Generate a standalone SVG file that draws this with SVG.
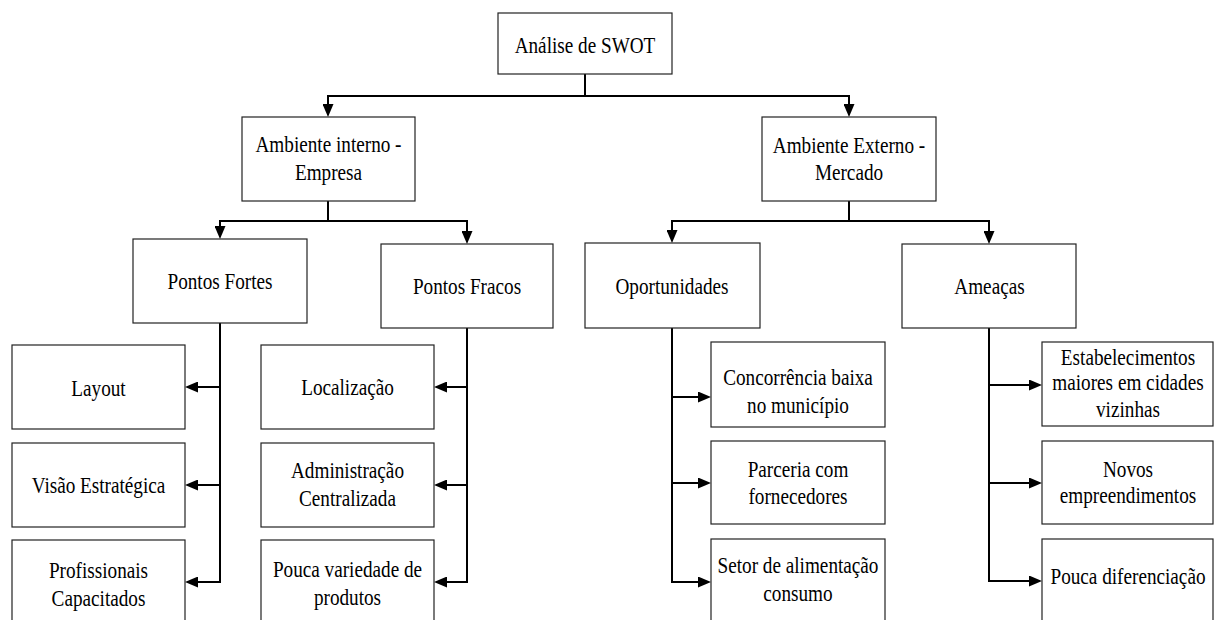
<svg xmlns="http://www.w3.org/2000/svg" width="1214" height="620" viewBox="0 0 1214 620">
  <style>
    .box { fill: #ffffff; stroke: #222222; stroke-width: 1.2; }
    .wire { fill: none; stroke: #000000; stroke-width: 2; }
    .tip { marker-end: url(#arrow); }
  </style>
  <defs>
    <marker id="arrow" markerUnits="userSpaceOnUse" markerWidth="13" markerHeight="11" viewBox="0 0 13 11" refX="5" refY="5.5" orient="auto">
      <path d="M0,0 L13,5.5 L0,11 z" fill="#000000"/>
    </marker>
  </defs>
  <rect width="1214" height="620" fill="#ffffff"/>

  <!-- connectors: trunks without heads, branches ending in arrowheads -->
  <g id="connectors" class="wire">
    <path d="M585,74 V96"/>
    <path class="tip" d="M585,96 H328 V109"/>
    <path class="tip" d="M585,96 H849 V109"/>
    <path d="M328,201 V221"/>
    <path class="tip" d="M328,221 H220 V231"/>
    <path class="tip" d="M328,221 H467 V236"/>
    <path d="M849,201 V221"/>
    <path class="tip" d="M849,221 H672 V235"/>
    <path class="tip" d="M849,221 H989 V236"/>
    <!-- Pontos Fortes branch -->
    <path d="M220,323 V583"/>
    <path class="tip" d="M220,387 H193"/>
    <path class="tip" d="M220,485 H193"/>
    <path class="tip" d="M220,582 H193"/>
    <!-- Pontos Fracos branch -->
    <path d="M467,328 V583"/>
    <path class="tip" d="M467,387 H442"/>
    <path class="tip" d="M467,485 H442"/>
    <path class="tip" d="M467,582 H442"/>
    <!-- Oportunidades branch -->
    <path d="M672,328 V583"/>
    <path class="tip" d="M672,397 H703"/>
    <path class="tip" d="M672,483 H703"/>
    <path class="tip" d="M672,582 H703"/>
    <!-- Ameaças branch -->
    <path d="M989,328 V582"/>
    <path class="tip" d="M989,385 H1034"/>
    <path class="tip" d="M989,483 H1034"/>
    <path class="tip" d="M989,581 H1034"/>
  </g>

  <g id="nodes" font-family="Liberation Serif, Times New Roman, serif" font-size="24" fill="#000000" text-anchor="middle">
  <!-- root -->
  <g id="swot">
    <rect class="box" x="498" y="13" width="174" height="61"/>
    <text transform="translate(585 52.5) scale(0.8 1)">Análise de SWOT</text>
  </g>

  <!-- environments -->
  <g id="interno">
    <rect class="box" x="242" y="117" width="173" height="84"/>
    <text transform="translate(328.5 152) scale(0.8 1)"><tspan x="0">Ambiente interno -</tspan><tspan x="0" dy="28">Empresa</tspan></text>
  </g>
  <g id="externo">
    <rect class="box" x="762" y="117" width="174" height="84"/>
    <text transform="translate(849 152.5) scale(0.8 1)"><tspan x="0">Ambiente Externo -</tspan><tspan x="0" dy="28">Mercado</tspan></text>
  </g>

  <!-- quadrants -->
  <g id="fortes">
    <rect class="box" x="133" y="239" width="174" height="84"/>
    <text transform="translate(220 289) scale(0.8 1)">Pontos Fortes</text>
  </g>
  <g id="fracos">
    <rect class="box" x="381" y="244" width="172" height="84"/>
    <text transform="translate(467 294) scale(0.8 1)">Pontos Fracos</text>
  </g>
  <g id="oportunidades">
    <rect class="box" x="585" y="243" width="175" height="85"/>
    <text transform="translate(672 293.5) scale(0.8 1)">Oportunidades</text>
  </g>
  <g id="ameacas">
    <rect class="box" x="902" y="244" width="174" height="84"/>
    <text transform="translate(989.5 293.5) scale(0.8 1)">Ameaças</text>
  </g>

  <!-- Pontos Fortes items -->
  <g id="layout">
    <rect class="box" x="12" y="345" width="173" height="84"/>
    <text transform="translate(98.5 395.5) scale(0.8 1)">Layout</text>
  </g>
  <g id="visao">
    <rect class="box" x="12" y="443" width="173" height="84"/>
    <text transform="translate(98.5 493) scale(0.8 1)">Visão Estratégica</text>
  </g>
  <g id="profissionais">
    <rect class="box" x="12" y="540" width="173" height="90"/>
    <text transform="translate(98.5 578) scale(0.8 1)"><tspan x="0">Profissionais</tspan><tspan x="0" dy="28">Capacitados</tspan></text>
  </g>

  <!-- Pontos Fracos items -->
  <g id="localizacao">
    <rect class="box" x="261" y="345" width="173" height="84"/>
    <text transform="translate(347.5 395) scale(0.8 1)">Localização</text>
  </g>
  <g id="administracao">
    <rect class="box" x="261" y="443" width="173" height="84"/>
    <text transform="translate(347.5 478) scale(0.8 1)"><tspan x="0">Administração</tspan><tspan x="0" dy="28">Centralizada</tspan></text>
  </g>
  <g id="variedade">
    <rect class="box" x="261" y="540" width="173" height="90"/>
    <text transform="translate(347.5 577) scale(0.8 1)"><tspan x="0">Pouca variedade de</tspan><tspan x="0" dy="28">produtos</tspan></text>
  </g>

  <!-- Oportunidades items -->
  <g id="concorrencia">
    <rect class="box" x="711" y="342" width="174" height="85"/>
    <text transform="translate(798 385) scale(0.8 1)"><tspan x="0">Concorrência baixa</tspan><tspan x="0" dy="28.5">no município</tspan></text>
  </g>
  <g id="parceria">
    <rect class="box" x="711" y="441" width="174" height="83"/>
    <text transform="translate(798 476.5) scale(0.8 1)"><tspan x="0">Parceria com</tspan><tspan x="0" dy="28">fornecedores</tspan></text>
  </g>
  <g id="alimentacao">
    <rect class="box" x="711" y="539" width="174" height="91"/>
    <text transform="translate(798 573) scale(0.8 1)"><tspan x="0">Setor de alimentação</tspan><tspan x="0" dy="28">consumo</tspan></text>
  </g>

  <!-- Ameaças items -->
  <g id="estabelecimentos">
    <rect class="box" x="1042" y="342" width="171" height="84"/>
    <text transform="translate(1128 364.5) scale(0.8 1)"><tspan x="0">Estabelecimentos</tspan><tspan x="0" dy="26">maiores em cidades</tspan><tspan x="0" dy="26.5">vizinhas</tspan></text>
  </g>
  <g id="novos">
    <rect class="box" x="1042" y="441" width="171" height="83"/>
    <text transform="translate(1128 476.5) scale(0.8 1)"><tspan x="0">Novos</tspan><tspan x="0" dy="27">empreendimentos</tspan></text>
  </g>
  <g id="diferenciacao">
    <rect class="box" x="1042" y="539" width="171" height="91"/>
    <text transform="translate(1128 583.5) scale(0.8 1)">Pouca diferenciação</text>
  </g>
  </g>
</svg>
